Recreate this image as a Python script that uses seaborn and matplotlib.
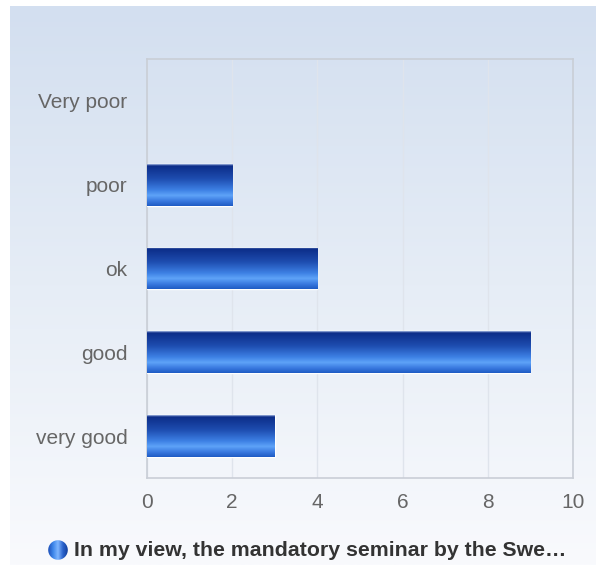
import numpy as np
import pandas as pd
import matplotlib
matplotlib.use("Agg")
import matplotlib.pyplot as plt
from matplotlib.colors import LinearSegmentedColormap
from matplotlib.patches import Circle
import seaborn as sns

categories = ["Very poor", "poor", "ok", "good", "very good"]
counts = [0, 2, 4, 9, 3]
x_ticks = [0, 2, 4, 6, 8, 10]
legend_label = "In my view, the mandatory seminar by the Swe\u2026"

sns.set_theme(style="white")
plt.rcParams['font.family'] = ['Liberation Sans', 'DejaVu Sans']

W, H = 596, 565
fig = plt.figure(figsize=(W / 100, H / 100), dpi=100)
fig.patch.set_facecolor("white")

# background panel with vertical gradient
bg = fig.add_axes([10 / W, 0, 1 - 10 / W, (H - 6) / H], zorder=-10)
bg_cmap = LinearSegmentedColormap.from_list("bg", ["#d3dff0", "#e6edf6", "#f9fafd"])
bg.imshow(np.linspace(0, 1, 256).reshape(-1, 1), aspect="auto", cmap=bg_cmap,
          extent=[0, 1, 0, 1], origin="upper")
bg.set_axis_off()

ax = fig.add_axes([147 / W, 1 - 478 / H, (573 - 147) / W, (478 - 59) / H])
ax.patch.set_alpha(0)

df = pd.DataFrame({"category": categories, "count": counts})
sns.barplot(data=df, x="count", y="category", order=categories, orient="h",
            color="#2a64d0", width=0.5, ax=ax, edgecolor="white", linewidth=1.0,
            zorder=3)

ax.set_xlim(0, 10)
ax.set_xticks(x_ticks)
ax.set_xticklabels([str(t) for t in x_ticks])
ax.set_xlabel("")
ax.set_ylabel("")
ax.grid(axis="x", color="#dfe4ec", linewidth=1.0, zorder=0)
ax.set_axisbelow(True)
for s in ax.spines.values():
    s.set_color("#c9ced6")
    s.set_linewidth(1.2)
ax.tick_params(axis="both", length=0, labelsize=15, labelcolor="#666666")
ax.tick_params(axis="x", pad=10.5)
ax.tick_params(axis="y", pad=14)

# gradient fill for bars
bar_cmap = LinearSegmentedColormap.from_list(
    "bar", [(0.0, "#9fb3df"), (0.04, "#0c2d88"), (0.35, "#1e4db0"),
            (0.62, "#3d80e4"), (0.75, "#5ea3f8"), (0.88, "#3a7ae0"),
            (1.0, "#1f5bc4")])
grad = np.linspace(0, 1, 128).reshape(-1, 1)
for p in list(ax.patches):
    bb = p.get_bbox()
    if bb.width <= 0:
        p.set_linewidth(0)
        continue
    im = ax.imshow(grad, aspect="auto", cmap=bar_cmap, origin="upper",
                   extent=[bb.x0, bb.x1, bb.y1, bb.y0], zorder=3.5)
    im.set_clip_path(p)
ax.set_xlim(0, 10)
ax.set_ylim(4.5, -0.5)

# legend
cx, cy, r = 58, 550, 10
lax = fig.add_axes([(cx - r) / W, 1 - (cy + r) / H, 2 * r / W, 2 * r / H])
lcmap = LinearSegmentedColormap.from_list("lg", ["#1d4fb8", "#3d86ea", "#7fb6ff", "#2a63cc", "#123f9c"])
im = lax.imshow(np.linspace(0, 1, 64).reshape(1, -1), aspect="auto", cmap=lcmap,
                extent=[0, 1, 0, 1])
circ = Circle((0.5, 0.5), 0.49, transform=lax.transData)
im.set_clip_path(circ)
lax.set_xlim(0, 1)
lax.set_ylim(0, 1)
lax.set_axis_off()
fig.text(74 / W, 1 - (cy + 1) / H, legend_label, fontsize=15.3, fontweight="bold",
         color="#333333", va="center", ha="left")

fig.savefig("out.png", dpi=100)
